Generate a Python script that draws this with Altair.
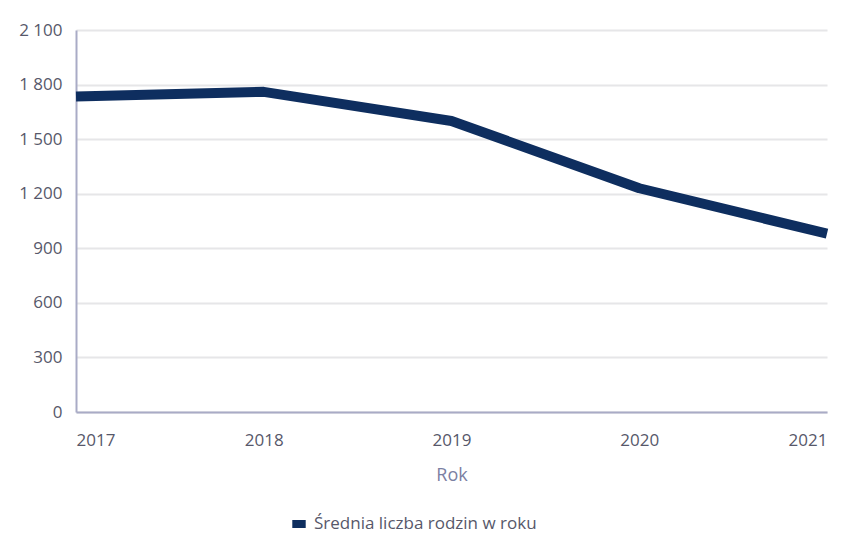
import altair as alt
import pandas as pd

years = [2017, 2018, 2019, 2020, 2021]
values = [1735, 1760, 1600, 1230, 980]
series = ["Średnia liczba rodzin w roku"] * 5

df = pd.DataFrame({"Rok": years, "Wartość": values, "Seria": series})

label_color = "#57586a"
font = "Open Sans"

chart = alt.Chart(df).mark_line(strokeWidth=10, strokeCap="butt", strokeJoin="round").encode(
    x=alt.X("Rok:Q",
            scale=alt.Scale(domain=[2017, 2021], nice=False, zero=False),
            axis=alt.Axis(values=years, format="d", grid=False, ticks=False,
                          domainColor="#a9abc6", domainWidth=2,
                          labelFont=font, labelFontSize=17, labelColor=label_color,
                          labelPadding=20, title="Rok", titleFont=font,
                          titleFontSize=18, titleFontWeight="normal",
                          titleColor="#7b7fa3", titlePadding=18)),
    y=alt.Y("Wartość:Q",
            scale=alt.Scale(domain=[0, 2100], nice=False),
            axis=alt.Axis(values=[0, 300, 600, 900, 1200, 1500, 1800, 2100],
                          labelExpr="replace(format(datum.value, ',d'), ',', ' ')",
                          ticks=False, domainColor="#a9abc6", domainWidth=2,
                          gridColor="#e6e6e8", gridWidth=2,
                          labelFont=font, labelFontSize=17, labelColor=label_color,
                          labelPadding=14, title=None)),
    color=alt.Color("Seria:N",
                    scale=alt.Scale(range=["#0e2e5f"]),
                    legend=alt.Legend(orient="none", legendX=212, legendY=483,
                                      title=None, symbolType="stroke",
                                      symbolSize=180, symbolStrokeWidth=8,
                                      labelFont=font, labelFontSize=17,
                                      labelColor=label_color, labelLimit=400,
                                      padding=0)),
).properties(
    width=751, height=382,
    autosize=alt.AutoSizeParams(type="none"),
    padding={"left": 68, "top": 22, "right": 3, "bottom": 126},
).configure_view(stroke=None)

chart.save("out.html", embed_options={"renderer": "svg", "actions": False})
